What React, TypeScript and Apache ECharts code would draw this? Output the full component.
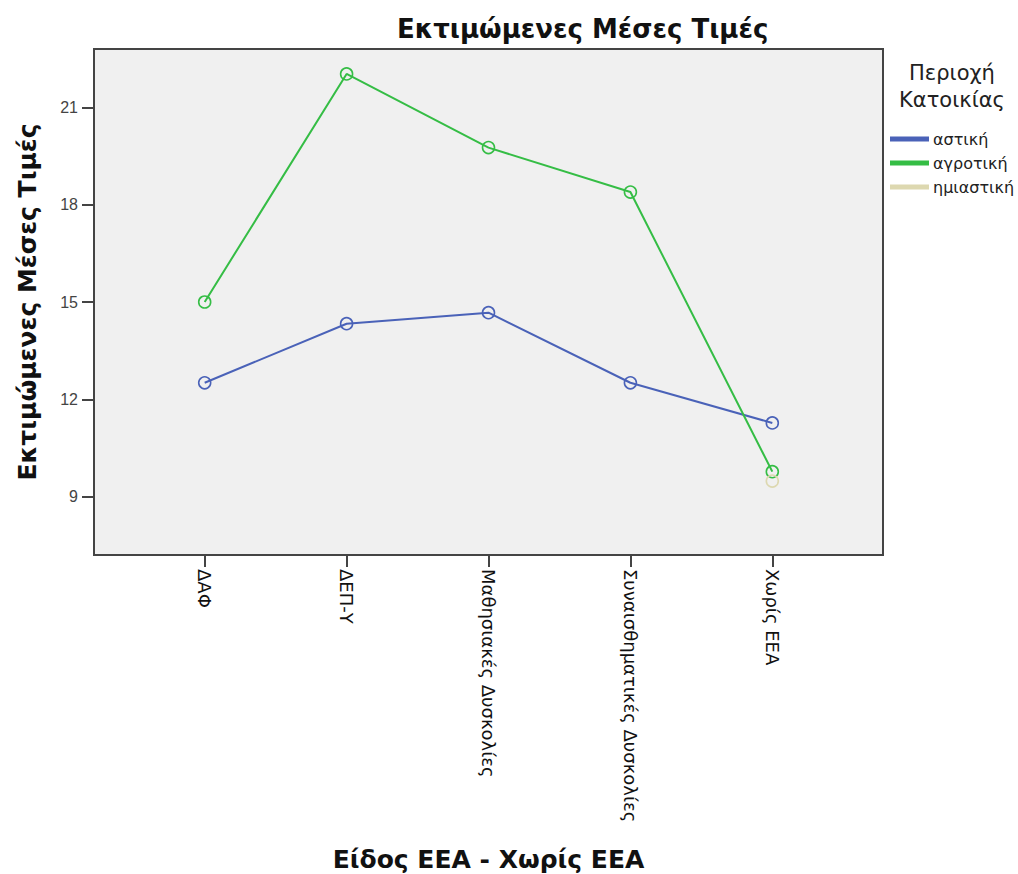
import React, { useEffect, useRef } from "react";
import * as echarts from "echarts";

const categories = ["ΔΑΦ", "ΔΕΠ-Υ", "Μαθησιακές Δυσκολίες", "Συναισθηματικές Δυσκολίες", "Χωρίς ΕΕΑ"];
const urbanValues = [12.51, 14.33, 14.67, 12.51, 11.27];
const ruralValues = [15.0, 22.03, 19.76, 18.39, 9.77];
const semiUrbanValues: (number | null)[] = [null, null, null, null, 9.48];
const yTicks = [9, 12, 15, 18, 21];
const seriesNames = ["αστική", "αγροτική", "ημιαστική"];
const colors = ["#4a62b8", "#35bd45", "#ddd8b0"];

const toPoints = (vals: (number | null)[]) =>
  vals.map((v, i) => [i, v]).filter((p) => p[1] !== null);

export default function App() {
  const ref = useRef<HTMLDivElement>(null);
  useEffect(() => {
    if (!ref.current) return;
    const chart = echarts.init(ref.current, null, { renderer: "svg" });
    const font = "Liberation Sans";
    const mkSeries = (name: string, vals: (number | null)[], color: string) => ({
      name,
      type: "line",
      data: toPoints(vals),
      symbol: "circle",
      symbolSize: 12,
      showSymbol: true,
      lineStyle: { color, width: 2 },
      itemStyle: { color: "rgba(0,0,0,0)", borderColor: color, borderWidth: 1.6 },
      z: 3,
    });
    chart.setOption({
      animation: false,
      backgroundColor: "#ffffff",
      textStyle: { fontFamily: font },
      title: {
        text: "Εκτιμώμενες Μέσες Τιμές",
        left: 392,
        top: 11,
        textStyle: { fontFamily: "DejaVu Sans", fontWeight: "bold", fontSize: 26, color: "#111" },
      },
      grid: {
        left: 94,
        top: 49,
        width: 789,
        height: 506,
        show: true,
        backgroundColor: "#f0f0f0",
        borderColor: "#444",
        borderWidth: 2,
        containLabel: false,
        outerBoundsMode: "none",
      },
      legend: {
        left: 890,
        top: 129,
        padding: 0,
        orient: "vertical",
        icon: "rect",
        itemWidth: 37,
        itemHeight: 3,
        itemGap: 4,
        data: seriesNames.map((n, i) => ({ name: n, itemStyle: { color: colors[i] } })),
        textStyle: { fontFamily: "DejaVu Sans", fontSize: 16, color: "#222", lineHeight: 20 },
      },
      graphic: [
        {
          type: "text",
          x: 952,
          y: 59,
          style: {
            text: "Περιοχή\nΚατοικίας",
            font: `21px "DejaVu Sans"`,
            fill: "#222",
            align: "center",
            lineHeight: 27,
          },
        },
      ],
      xAxis: {
        type: "value",
        min: -0.78,
        max: 4.78,
        name: "Είδος ΕΕΑ - Χωρίς ΕΕΑ",
        nameLocation: "middle",
        nameGap: 292,
        nameTextStyle: { fontFamily: "DejaVu Sans", fontWeight: "bold", fontSize: 25, color: "#111" },
        splitLine: { show: false },
        axisLine: { show: false, onZero: false },
        axisTick: { show: true, length: 12, customValues: [0, 1, 2, 3, 4], lineStyle: { color: "#444", width: 2 } },
        axisLabel: {
          customValues: [0, 1, 2, 3, 4],
          rotate: -90,
          margin: 14,
          fontFamily: "DejaVu Sans",
          fontSize: 18,
          color: "#111",
          formatter: (v: number) => categories[Math.round(v)] ?? "",
        },
      },
      yAxis: {
        type: "value",
        min: 7.2,
        max: 22.8,
        name: "Εκτιμώμενες Μέσες Τιμές",
        nameLocation: "middle",
        nameGap: 54,
        nameTextStyle: { fontFamily: "DejaVu Sans", fontWeight: "bold", fontSize: 25, color: "#111" },
        splitLine: { show: false },
        axisLine: { show: false, onZero: false },
        axisTick: { show: true, length: 12, customValues: yTicks, lineStyle: { color: "#444", width: 2 } },
        axisLabel: {
          customValues: yTicks,
          margin: 16,
          fontSize: 16,
          color: "#444",
        },
      },
      series: [
        mkSeries(seriesNames[0], urbanValues, colors[0]),
        mkSeries(seriesNames[1], ruralValues, colors[1]),
        mkSeries(seriesNames[2], semiUrbanValues, colors[2]),
      ],
    });
    return () => chart.dispose();
  }, []);
  return (
    <div
      ref={ref}
      style={{ position: "fixed", left: 0, top: 0, width: 1018, height: 874, background: "#fff" }}
    />
  );
}
